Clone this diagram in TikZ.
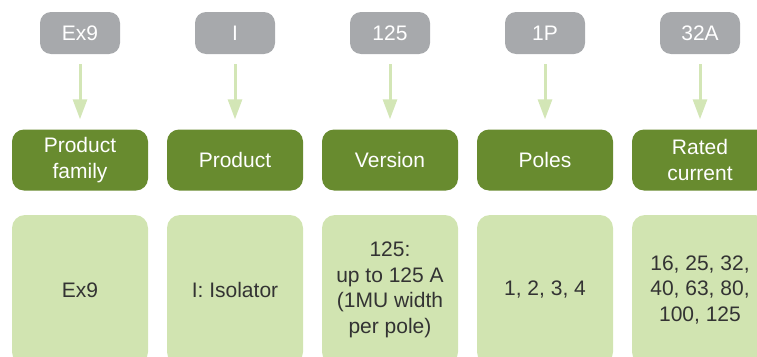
\documentclass[tikz,border=0pt]{standalone}
\usepackage{fontspec}
\setmainfont{Liberation Sans}
\usetikzlibrary{arrows.meta}
\definecolor{codegray}{HTML}{A7A9AC}
\definecolor{fieldgreen}{HTML}{688B2F}
\definecolor{valuegreen}{HTML}{D1E4B1}
\definecolor{arrowgreen}{HTML}{D3E6B6}
\definecolor{valuetext}{HTML}{333333}
\begin{document}
\begin{tikzpicture}[x=1pt, y=-1pt,
        code/.style={rectangle, fill=codegray, rounded corners=11pt, minimum width=80pt, minimum height=42pt, inner sep=0pt, text=white, font=\fontsize{21}{25.5}\selectfont},
        field/.style={rectangle, fill=fieldgreen, rounded corners=12pt, minimum width=136pt, minimum height=61pt, inner sep=0pt, text=white, align=center, font=\fontsize{21}{25.5}\selectfont},
        value/.style={rectangle, fill=valuegreen, rounded corners=13pt, minimum width=136pt, minimum height=150pt, inner sep=0pt, text=valuetext, align=center, font=\fontsize{21}{25.5}\selectfont},
        link/.style={draw=arrowgreen, line width=3pt, -{Triangle[width=14pt,length=20pt]}, shorten <=10pt, shorten >=10pt}
    ]
        \useasboundingbox (0,0) rectangle (757,356);
        % code letters
        \node[code] (c1) at (80,33) {Ex9};
        \node[code] (c2) at (235,33) {I};
        \node[code] (c3) at (390,33) {125};
        \node[code] (c4) at (545,33) {1P};
        \node[code] (c5) at (700,33) {32A};
        % field names
        \node[field] (f1) at (80,160) {Product\\family};
        \node[field] (f2) at (235,160) {Product};
        \node[field] (f3) at (390,160) {Version};
        \node[field] (f4) at (545,160) {Poles};
        \node[field] (f5) at (700,160) {Rated\\current};
        % values
        \node[value] (v1) at (80,290) {Ex9};
        \node[value] (v2) at (235,290) {I: Isolator};
        \node[value] (v3) at (390,290) {125:\\up to 125 A\\(1MU width\\per pole)};
        \node[value] (v4) at (545,290) {1, 2, 3, 4};
        \node[value] (v5) at (700,290) {16, 25, 32,\\40, 63, 80,\\100, 125};
        % arrows
        \draw[link] (c1) -- (f1);
        \draw[link] (c2) -- (f2);
        \draw[link] (c3) -- (f3);
        \draw[link] (c4) -- (f4);
        \draw[link] (c5) -- (f5);
\end{tikzpicture}
\end{document}
